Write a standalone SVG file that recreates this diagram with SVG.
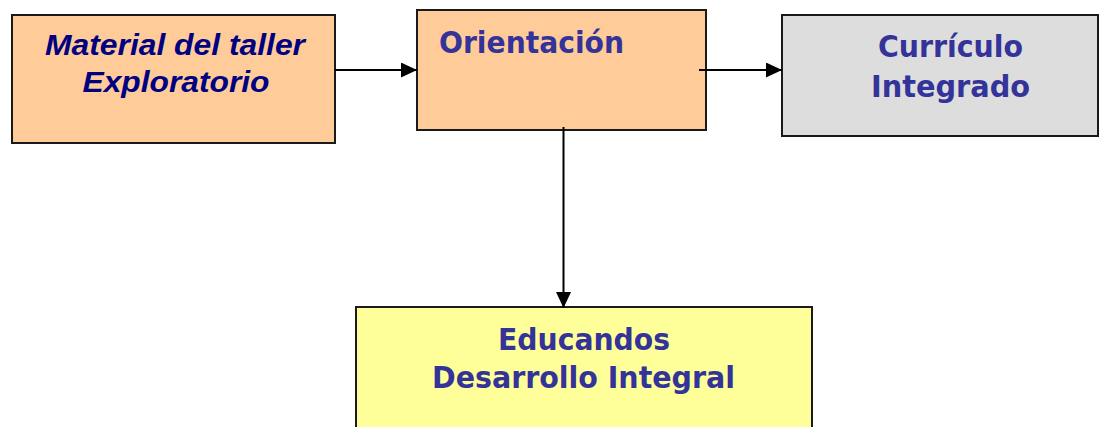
<svg xmlns="http://www.w3.org/2000/svg" width="1099" height="427" viewBox="0 0 1099 427">
<style>
.box{stroke:#1a1a1a;stroke-width:2}
.t1{font-family:"Liberation Sans",Arial,sans-serif;font-weight:bold;font-style:italic;font-size:30px;fill:#000080}
.t2{font-family:"DejaVu Sans",Tahoma,sans-serif;font-stretch:condensed;font-weight:bold;font-size:31px;fill:#333399}
.conn{stroke:#000;stroke-width:2;fill:none}
</style>
<defs>
<marker id="ah" markerWidth="16" markerHeight="15" refX="16" refY="7.5" orient="auto" markerUnits="userSpaceOnUse">
<path d="M0,0 L16,7.5 L0,15 Z" fill="#000"/>
</marker>
</defs>
<rect width="1099" height="427" fill="#fff"/>
<g id="material">
<rect class="box" x="12" y="15" width="323" height="128" fill="#FFCC99"/>
<text class="t1" x="175" y="55" text-anchor="middle" textLength="260" lengthAdjust="spacingAndGlyphs">Material del taller</text>
<text class="t1" x="176" y="92" text-anchor="middle" textLength="187" lengthAdjust="spacingAndGlyphs">Exploratorio</text>
</g>
<g id="orientacion">
<rect class="box" x="417" y="10" width="289" height="120" fill="#FFCC99"/>
<text class="t2" x="439" y="53" textLength="185" lengthAdjust="spacingAndGlyphs">Orientación</text>
</g>
<g id="curriculo">
<rect class="box" x="782" y="15" width="316" height="121" fill="#DDDDDD"/>
<text class="t2" x="950.5" y="57" text-anchor="middle" textLength="145" lengthAdjust="spacingAndGlyphs">Currículo</text>
<text class="t2" x="950.5" y="97" text-anchor="middle" textLength="159" lengthAdjust="spacingAndGlyphs">Integrado</text>
</g>
<g id="educandos">
<rect class="box" x="356" y="307" width="456" height="130" fill="#FFFF99"/>
<text class="t2" x="584" y="350" text-anchor="middle" textLength="172" lengthAdjust="spacingAndGlyphs">Educandos</text>
<text class="t2" x="583.5" y="388" text-anchor="middle" textLength="303" lengthAdjust="spacingAndGlyphs">Desarrollo Integral</text>
</g>
<g id="connectors">
<line class="conn" x1="335" y1="70" x2="417" y2="70" marker-end="url(#ah)"/>
<line class="conn" x1="699" y1="70" x2="782" y2="70" marker-end="url(#ah)"/>
<line class="conn" x1="563.5" y1="127" x2="563.5" y2="308" marker-end="url(#ah)"/>
</g>
</svg>
